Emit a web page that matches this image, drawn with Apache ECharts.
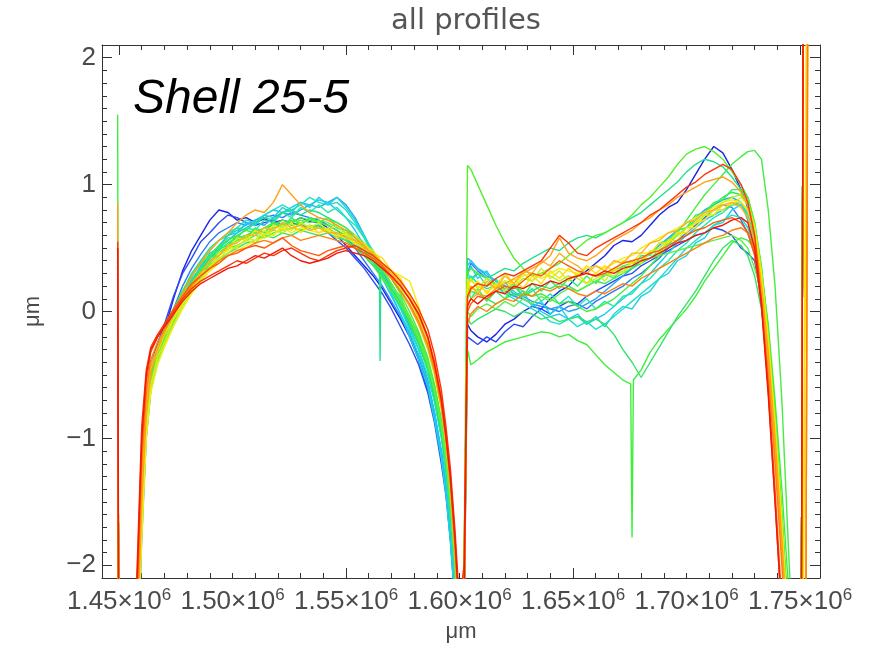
<!DOCTYPE html>
<html>
<head>
<meta charset="utf-8">
<script src="https://cdn.jsdelivr.net/npm/echarts@6/dist/echarts.min.js"></script>
<style>
html, body { margin: 0; padding: 0; background: #fff; }
#chart { width: 875px; height: 653px; }
</style>
</head>
<body>
<div id="chart"></div>
<script>
// Scan positions (μm) shared by all profiles: left arch and right section
const xLeft = [
  1449400, 1449900, 1456000, 1458000, 1460000, 1462000, 1464000, 1467000, 1470000, 1474000, 1478000,
  1482000, 1486000, 1490000, 1494000, 1498000, 1502000, 1506000, 1510000, 1514000, 1518000, 1522000,
  1526000, 1530000, 1534000, 1538000, 1542000, 1546000, 1550000, 1554000, 1558000, 1562000, 1566000,
  1570000, 1574000, 1578000, 1582000, 1586000, 1589000, 1592000, 1594000, 1596000, 1598000, 1600000
];
const xRight = [
  1602000, 1603500, 1605000, 1608000, 1612000, 1616000, 1620000, 1624000, 1628000, 1632000, 1636000,
  1640000, 1644000, 1648000, 1652000, 1656000, 1660000, 1664000, 1668000, 1672000, 1676000, 1680000,
  1684000, 1688000, 1692000, 1696000, 1700000, 1704000, 1708000, 1712000, 1716000, 1720000, 1724000,
  1727000, 1730000, 1733000, 1736000, 1739000, 1742000, 1745000, 1748000, 1750000, 1752000, 1754000
];

// Profile heights (μm) at the positions above
const p01L = [
  0.3, -3, -3, -2.8, -1.6, -0.9, -0.55, -0.32, -0.15, 0.1, 0.32,
  0.48, 0.6, 0.72, 0.8, 0.78, 0.72, 0.74, 0.7, 0.73, 0.7, 0.72,
  0.7, 0.74, 0.71, 0.7, 0.66, 0.6, 0.52, 0.44, 0.36, 0.28, 0.18,
  0.06, -0.06, -0.2, -0.38, -0.62, -0.85, -1.15, -1.4, -1.75, -2.2, -2.8
];
const p01R = [
  -2.4, -0.1, -0.15, -0.2, -0.24, -0.18, -0.1, -0.06, 0.0, 0.04, 0.02,
  0.1, 0.16, 0.2, 0.28, 0.32, 0.38, 0.44, 0.52, 0.56, 0.55, 0.6,
  0.68, 0.76, 0.82, 0.86, 0.96, 1.08, 1.2, 1.3, 1.25, 1.12, 0.96,
  0.82, 0.6, 0.2, -0.3, -1.0, -1.8, -2.7, -3, -6, 6, 6
];
const p02L = [
  0.35, -3, -3, -2.5, -1.3, -0.7, -0.42, -0.25, -0.1, 0.12, 0.3,
  0.42, 0.55, 0.62, 0.7, 0.76, 0.74, 0.7, 0.68, 0.7, 0.72, 0.68,
  0.7, 0.68, 0.66, 0.68, 0.62, 0.56, 0.5, 0.42, 0.34, 0.24, 0.14,
  0.02, -0.12, -0.26, -0.42, -0.64, -0.88, -1.2, -1.45, -1.8, -2.3, -2.9
];
const p02R = [
  -2.5, -0.2, -0.22, -0.26, -0.2, -0.24, -0.16, -0.1, -0.12, -0.04, 0.02,
  -0.02, 0.04, 0.08, 0.06, 0.12, 0.16, 0.2, 0.24, 0.28, 0.3, 0.36,
  0.4, 0.44, 0.48, 0.52, 0.56, 0.6, 0.62, 0.66, 0.64, 0.6, 0.5,
  0.46, 0.4, 0.1, -0.4, -1.1, -1.9, -2.8, -3, -6, 6, 6
];
const p03L = [
  0.3, -3, -3, -2.6, -1.5, -0.85, -0.5, -0.3, -0.16, 0.02, 0.2,
  0.34, 0.45, 0.55, 0.62, 0.66, 0.7, 0.68, 0.72, 0.74, 0.76, 0.74,
  0.78, 0.76, 0.74, 0.72, 0.68, 0.64, 0.58, 0.5, 0.4, 0.3, 0.2,
  0.08, -0.04, -0.18, -0.36, -0.58, -0.8, -1.1, -1.35, -1.7, -2.2, -2.8
];
const p03R = [
  -2.2, 0.3, 0.38, 0.32, 0.26, 0.2, 0.16, 0.12, 0.1, 0.06, 0.04,
  0.02, 0.0, 0.04, 0.06, 0.02, 0.08, 0.12, 0.16, 0.2, 0.26, 0.3,
  0.36, 0.42, 0.5, 0.56, 0.62, 0.68, 0.74, 0.8, 0.84, 0.82, 0.72,
  0.62, 0.45, 0.1, -0.42, -1.1, -1.9, -2.8, -3, -6, 6, 6
];
const p19L = [
  0.3, -3, -3, -2.9, -1.8, -1.0, -0.62, -0.4, -0.24, -0.08, 0.08,
  0.2, 0.32, 0.42, 0.5, 0.56, 0.62, 0.66, 0.7, 0.68, 0.74, 0.78,
  0.76, 0.8, 0.84, 0.82, 0.86, 0.9, 0.84, 0.74, 0.6, 0.46, 0.32,
  0.18, 0.04, -0.12, -0.3, -0.54, -0.8, -1.14, -1.42, -1.8, -2.3, -2.9
];
const p19R = [
  -2.2, 0.42, 0.4, 0.34, 0.28, 0.24, 0.2, 0.14, 0.12, 0.08, 0.06,
  0.02, 0.04, 0.0, 0.02, 0.06, 0.1, 0.16, 0.22, 0.28, 0.34, 0.4,
  0.46, 0.52, 0.58, 0.64, 0.7, 0.74, 0.8, 0.84, 0.88, 0.9, 0.86,
  0.72, 0.46, 0.12, -0.4, -1.1, -1.9, -2.8, -3, -6, 6, 6
];
const p21L = [
  0.35, -3, -3, -2.8, -1.7, -0.98, -0.62, -0.4, -0.26, -0.06, 0.1,
  0.26, 0.34, 0.46, 0.5, 0.6, 0.62, 0.7, 0.68, 0.76, 0.74, 0.82,
  0.78, 0.86, 0.82, 0.9, 0.84, 0.9, 0.82, 0.72, 0.6, 0.46, 0.3,
  0.14, -0.02, -0.2, -0.38, -0.6, -0.86, -1.16, -1.44, -1.82, -2.3, -2.9
];
const p21R = [
  -2.3, 0.3, 0.36, 0.26, 0.32, 0.2, 0.24, 0.12, 0.16, 0.04, 0.08,
  -0.02, 0.04, -0.06, -0.02, -0.1, -0.04, -0.12, -0.02, 0.04, 0.02, 0.12,
  0.16, 0.26, 0.3, 0.4, 0.44, 0.54, 0.58, 0.68, 0.7, 0.8, 0.84,
  0.78, 0.58, 0.2, -0.34, -1.04, -1.84, -2.76, -3, -6, 6, 6
];
const p04L = [
  0.35, -3, -3, -2.8, -1.7, -0.95, -0.6, -0.38, -0.22, -0.04, 0.1,
  0.24, 0.36, 0.44, 0.52, 0.6, 0.64, 0.68, 0.72, 0.76, 0.8, 0.78,
  0.82, 0.86, 0.84, 0.88, 0.86, 0.8, 0.74, 0.64, 0.52, 0.4, 0.26,
  0.12, -0.02, -0.16, -0.34, -0.56, -0.8, -1.1, -1.36, -1.72, -2.2, -2.8
];
const p04R = [
  -2.3, 0.36, 0.4, 0.34, 0.3, 0.24, 0.2, 0.16, 0.1, 0.06, 0.0,
  -0.04, -0.02, -0.06, -0.04, -0.1, -0.06, -0.02, 0.04, 0.1, 0.16, 0.22,
  0.3, 0.38, 0.46, 0.54, 0.6, 0.66, 0.72, 0.76, 0.8, 0.84, 0.86,
  0.8, 0.6, 0.22, -0.3, -1.0, -1.8, -2.7, -3, -6, 6, 6
];
const p05L = [
  0.4, -3, -3, -2.7, -1.6, -0.9, -0.56, -0.35, -0.2, -0.02, 0.14,
  0.28, 0.38, 0.48, 0.56, 0.62, 0.66, 0.72, 0.7, 0.76, 0.8, 0.84,
  0.8, 0.84, 0.9, 0.86, 0.84, 0.86, 0.8, 0.7, 0.58, 0.44, 0.3,
  0.16, 0.02, -0.14, -0.3, -0.5, -0.72, -1.0, -1.28, -1.65, -2.1, -2.7
];
const p05R = [
  -2.2, 0.25, 0.28, 0.22, 0.18, 0.2, 0.14, 0.1, 0.06, 0.02, -0.02,
  -0.08, -0.1, -0.06, -0.12, -0.08, -0.14, -0.1, -0.04, 0.02, 0.08, 0.14,
  0.2, 0.26, 0.34, 0.42, 0.5, 0.56, 0.62, 0.68, 0.72, 0.76, 0.74,
  0.66, 0.5, 0.18, -0.36, -1.06, -1.86, -2.8, -3, -6, 6, 6
];
const p25L = [
  0.38, -3, -3, -2.7, -1.6, -0.9, -0.56, -0.38, -0.22, -0.06, 0.08,
  0.24, 0.32, 0.44, 0.48, 0.58, 0.58, 0.66, 0.64, 0.72, 0.7, 0.78,
  0.74, 0.82, 0.78, 0.84, 0.78, 0.82, 0.74, 0.68, 0.58, 0.48, 0.34,
  0.22, 0.06, -0.08, -0.26, -0.46, -0.7, -0.98, -1.26, -1.62, -2.1, -2.75
];
const p25R = [
  -2.2, 0.32, 0.24, 0.3, 0.2, 0.26, 0.16, 0.22, 0.12, 0.18, 0.08,
  0.14, 0.06, 0.12, 0.04, 0.1, 0.02, 0.08, 0.04, 0.12, 0.14, 0.22,
  0.26, 0.34, 0.4, 0.48, 0.54, 0.62, 0.68, 0.74, 0.78, 0.84, 0.84,
  0.76, 0.56, 0.2, -0.32, -1.0, -1.8, -2.7, -3, -6, 6, 6
];
const p06L = [
  0.4, -3, -3, -2.5, -1.4, -0.78, -0.48, -0.3, -0.16, 0.0, 0.16,
  0.3, 0.4, 0.5, 0.56, 0.6, 0.66, 0.64, 0.7, 0.74, 0.72, 0.78,
  0.8, 0.76, 0.8, 0.78, 0.74, 0.7, 0.66, 0.58, 0.5, 0.4, 0.28,
  0.16, 0.04, -0.1, -0.26, -0.46, -0.68, -0.96, -1.22, -1.58, -2.05, -2.7
];
// narrow dropout in the left arch
const p06Dip = [[1564700, 0.33], [1565000, -0.39], [1565300, 0.31]];
const p06R = [
  -2.0, 0.2, 0.26, 0.3, 0.26, 0.3, 0.34, 0.32, 0.38, 0.42, 0.46,
  0.5, 0.48, 0.54, 0.58, 0.6, 0.58, 0.62, 0.66, 0.7, 0.74, 0.78,
  0.84, 0.9, 0.96, 1.02, 1.1, 1.16, 1.2, 1.18, 1.14, 1.06, 0.96,
  0.84, 0.62, 0.26, -0.24, -0.9, -1.7, -2.6, -3, -6, 6, 6
];
const p07L = [
  0.42, -3, -3, -2.6, -1.5, -0.82, -0.5, -0.32, -0.18, -0.02, 0.12,
  0.24, 0.34, 0.42, 0.48, 0.54, 0.58, 0.6, 0.64, 0.62, 0.66, 0.7,
  0.68, 0.7, 0.66, 0.68, 0.64, 0.62, 0.58, 0.52, 0.46, 0.38, 0.28,
  0.18, 0.06, -0.08, -0.24, -0.44, -0.66, -0.94, -1.2, -1.56, -2.05, -2.7
];
const p07R = [
  -2.2, 0.1, 0.16, 0.14, 0.1, 0.06, 0.1, 0.14, 0.12, 0.16, 0.2,
  0.18, 0.22, 0.2, 0.16, 0.2, 0.24, 0.22, 0.26, 0.3, 0.34, 0.38,
  0.42, 0.48, 0.54, 0.6, 0.66, 0.72, 0.78, 0.84, 0.9, 0.94, 0.92,
  0.84, 0.62, 0.3, -0.22, -0.9, -1.7, -2.6, -3, -6, 6, 6
];
const p22L = [
  0.4, -3, -3, -2.6, -1.5, -0.86, -0.5, -0.36, -0.18, -0.08, 0.12,
  0.2, 0.34, 0.38, 0.5, 0.52, 0.6, 0.58, 0.66, 0.62, 0.7, 0.66,
  0.74, 0.68, 0.74, 0.7, 0.74, 0.66, 0.64, 0.54, 0.52, 0.4, 0.34,
  0.2, 0.12, -0.06, -0.18, -0.42, -0.6, -0.9, -1.16, -1.52, -2.0, -2.65
];
const p22R = [
  -2.3, 0.2, 0.1, 0.18, 0.08, 0.16, 0.1, 0.2, 0.12, 0.22, 0.16,
  0.24, 0.18, 0.26, 0.2, 0.28, 0.22, 0.3, 0.26, 0.36, 0.34, 0.44,
  0.44, 0.54, 0.56, 0.64, 0.66, 0.76, 0.78, 0.86, 0.88, 0.96, 0.96,
  0.9, 0.7, 0.36, -0.14, -0.8, -1.6, -2.5, -3, -6, 6, 6
];
const p08L = [
  1.55, -3, -3, -2.4, -1.3, -0.74, -0.46, -0.28, -0.14, 0.02, 0.16,
  0.28, 0.38, 0.44, 0.52, 0.56, 0.6, 0.64, 0.62, 0.66, 0.7, 0.68,
  0.72, 0.7, 0.72, 0.7, 0.68, 0.64, 0.6, 0.54, 0.48, 0.4, 0.32,
  0.22, 0.1, -0.04, -0.2, -0.4, -0.6, -0.88, -1.14, -1.5, -1.98, -2.6
];
const p08R = [
  -2.5, -0.3, -0.42, -0.38, -0.32, -0.28, -0.24, -0.22, -0.2, -0.18, -0.16,
  -0.17, -0.2, -0.18, -0.23, -0.26, -0.34, -0.42, -0.48, -0.54, -1.78, -0.46,
  -0.32, -0.22, -0.14, -0.06, 0.02, 0.12, 0.24, 0.34, 0.44, 0.54, 0.58,
  0.56, 0.5, 0.3, -0.1, -0.7, -1.4, -2.2, -3, -6, 6, 6
];
// shoulders of the deep dropout in the right section
const p08Dip = [[1675400, -0.57], [1676600, -0.54]];
const p09L = [
  0.4, -3, -3, -2.7, -1.6, -0.88, -0.54, -0.36, -0.22, -0.06, 0.08,
  0.2, 0.3, 0.36, 0.44, 0.5, 0.52, 0.56, 0.6, 0.58, 0.62, 0.64,
  0.66, 0.64, 0.68, 0.66, 0.64, 0.6, 0.56, 0.5, 0.44, 0.36, 0.26,
  0.16, 0.06, -0.06, -0.22, -0.42, -0.62, -0.9, -1.16, -1.52, -2.0, -2.6
];
const p09R = [
  -2.0, 1.15, 1.12, 1.0, 0.84, 0.68, 0.54, 0.42, 0.34, 0.28, 0.3,
  0.34, 0.38, 0.44, 0.5, 0.56, 0.6, 0.62, 0.66, 0.7, 0.76, 0.84,
  0.9, 0.98, 1.06, 1.16, 1.24, 1.28, 1.3, 1.26, 1.2, 1.1, 1.0,
  0.9, 0.7, 0.34, -0.16, -0.82, -1.6, -2.5, -3, -6, 6, 6
];
const p10L = [
  0.4, -3, -3, -2.5, -1.4, -0.8, -0.5, -0.3, -0.18, -0.04, 0.08,
  0.18, 0.28, 0.36, 0.4, 0.46, 0.5, 0.54, 0.56, 0.6, 0.58, 0.62,
  0.6, 0.64, 0.62, 0.6, 0.62, 0.58, 0.56, 0.5, 0.44, 0.36, 0.28,
  0.18, 0.08, -0.04, -0.18, -0.38, -0.58, -0.86, -1.1, -1.46, -1.95, -2.6
];
const p10R = [
  -2.4, -0.05, -0.1, -0.06, -0.02, 0.02, 0.0, -0.04, 0.0, -0.02, -0.06,
  -0.04, -0.08, -0.06, -0.04, -0.08, -0.06, -0.1, -0.18, -0.3, -0.4, -0.52,
  -0.4, -0.28, -0.16, -0.04, 0.06, 0.16, 0.28, 0.4, 0.5, 0.56, 0.52,
  0.44, 0.28, 0.02, -0.4, -1.0, -1.8, -2.7, -3, -6, 6, 6
];
const p11L = [
  0.45, -3, -3, -2.6, -1.5, -0.84, -0.52, -0.34, -0.2, -0.04, 0.1,
  0.22, 0.32, 0.4, 0.46, 0.52, 0.56, 0.6, 0.62, 0.66, 0.68, 0.72,
  0.7, 0.74, 0.72, 0.74, 0.72, 0.7, 0.66, 0.6, 0.54, 0.46, 0.36,
  0.26, 0.14, 0.0, -0.16, -0.36, -0.58, -0.86, -1.12, -1.48, -1.96, -2.6
];
const p11R = [
  -2.3, 0.3, 0.34, 0.3, 0.26, 0.22, 0.18, 0.2, 0.16, 0.12, 0.14,
  0.1, 0.06, 0.08, 0.04, 0.0, 0.02, 0.06, 0.1, 0.16, 0.22, 0.28,
  0.36, 0.44, 0.52, 0.62, 0.72, 0.82, 0.92, 1.0, 1.08, 1.16, 1.22,
  1.26, 1.27, 1.2, 0.8, 0.2, -0.7, -1.9, -3, -6, 6, 6
];
const p20L = [
  0.42, -3, -3, -2.6, -1.5, -0.86, -0.54, -0.34, -0.2, -0.04, 0.1,
  0.22, 0.3, 0.38, 0.46, 0.5, 0.56, 0.58, 0.62, 0.6, 0.66, 0.68,
  0.7, 0.72, 0.7, 0.72, 0.7, 0.66, 0.62, 0.56, 0.5, 0.42, 0.34,
  0.22, 0.1, -0.04, -0.2, -0.4, -0.62, -0.9, -1.16, -1.52, -2.0, -2.6
];
const p20R = [
  -2.3, 0.0, -0.04, 0.02, 0.06, 0.02, 0.08, 0.04, 0.1, 0.06, 0.12,
  0.08, 0.14, 0.18, 0.16, 0.2, 0.24, 0.28, 0.32, 0.36, 0.38, 0.4,
  0.42, 0.44, 0.46, 0.48, 0.5, 0.52, 0.54, 0.56, 0.58, 0.6, 0.56,
  0.5, 0.34, 0.16, -0.3, -0.9, -1.6, -2.4, -3, -6, 6, 6
];
const p12L = [
  0.4, -3, -3, -2.7, -1.7, -0.96, -0.6, -0.4, -0.26, -0.1, 0.04,
  0.16, 0.26, 0.34, 0.42, 0.46, 0.52, 0.56, 0.54, 0.6, 0.64, 0.62,
  0.66, 0.68, 0.64, 0.66, 0.64, 0.62, 0.6, 0.56, 0.5, 0.44, 0.36,
  0.28, 0.18, 0.06, -0.1, -0.3, -0.5, -0.78, -1.04, -1.4, -1.9, -2.55
];
const p12R = [
  -2.2, 0.14, 0.2, 0.16, 0.22, 0.18, 0.24, 0.2, 0.26, 0.24, 0.3,
  0.28, 0.24, 0.28, 0.26, 0.22, 0.26, 0.3, 0.28, 0.32, 0.36, 0.4,
  0.46, 0.5, 0.56, 0.6, 0.66, 0.7, 0.76, 0.8, 0.86, 0.9, 0.92,
  0.86, 0.68, 0.32, -0.2, -0.86, -1.66, -2.6, -3, -6, 6, 6
];
const p23L = [
  0.4, -3, -3, -2.7, -1.65, -0.92, -0.58, -0.36, -0.24, -0.06, 0.06,
  0.2, 0.24, 0.36, 0.4, 0.5, 0.5, 0.58, 0.56, 0.64, 0.6, 0.68,
  0.64, 0.7, 0.66, 0.7, 0.64, 0.68, 0.6, 0.6, 0.52, 0.48, 0.38,
  0.32, 0.2, 0.1, -0.06, -0.26, -0.48, -0.76, -1.02, -1.38, -1.88, -2.5
];
const p23R = [
  -2.2, 0.18, 0.26, 0.18, 0.26, 0.2, 0.3, 0.22, 0.3, 0.24, 0.34,
  0.26, 0.32, 0.24, 0.3, 0.22, 0.3, 0.24, 0.34, 0.3, 0.4, 0.38,
  0.48, 0.46, 0.56, 0.56, 0.66, 0.66, 0.76, 0.76, 0.84, 0.84, 0.9,
  0.84, 0.66, 0.3, -0.22, -0.88, -1.68, -2.6, -3, -6, 6, 6
];
const p13L = [
  0.4, -3, -3, -2.8, -1.8, -1.0, -0.64, -0.42, -0.28, -0.12, 0.02,
  0.14, 0.24, 0.32, 0.38, 0.44, 0.48, 0.52, 0.56, 0.58, 0.6, 0.66,
  0.62, 0.66, 0.64, 0.62, 0.64, 0.6, 0.58, 0.54, 0.5, 0.44, 0.38,
  0.32, 0.28, 0.24, 0.04, -0.22, -0.44, -0.72, -1.0, -1.36, -1.86, -2.5
];
const p13R = [
  -2.1, 0.2, 0.24, 0.2, 0.16, 0.2, 0.24, 0.22, 0.28, 0.3, 0.26,
  0.3, 0.34, 0.32, 0.3, 0.34, 0.36, 0.34, 0.38, 0.42, 0.44, 0.5,
  0.54, 0.58, 0.62, 0.66, 0.7, 0.74, 0.78, 0.82, 0.86, 0.88, 0.86,
  0.8, 0.62, 0.26, -0.26, -0.92, -1.7, -2.6, -3, -6, 0, 6
];
const p24L = [
  0.45, -3, -3, -2.5, -1.4, -0.76, -0.46, -0.32, -0.18, -0.06, 0.08,
  0.16, 0.3, 0.34, 0.46, 0.48, 0.58, 0.56, 0.64, 0.6, 0.68, 0.64,
  0.7, 0.62, 0.68, 0.62, 0.66, 0.58, 0.62, 0.54, 0.54, 0.46, 0.42,
  0.32, 0.26, 0.12, 0.0, -0.2, -0.4, -0.68, -0.96, -1.32, -1.82, -2.45
];
const p24R = [
  -2.2, 0.26, 0.16, 0.24, 0.14, 0.22, 0.16, 0.26, 0.18, 0.28, 0.22,
  0.32, 0.26, 0.34, 0.28, 0.36, 0.3, 0.36, 0.32, 0.4, 0.38, 0.46,
  0.46, 0.54, 0.54, 0.62, 0.62, 0.7, 0.72, 0.8, 0.8, 0.86, 0.86,
  0.8, 0.64, 0.28, -0.24, -0.9, -1.7, -2.6, -3, -6, -1, 6
];
const p26L = [
  0.5, -3, -3, -2.4, -1.3, -0.7, -0.42, -0.28, -0.16, -0.02, 0.1,
  0.22, 0.3, 0.4, 0.44, 0.52, 0.54, 0.6, 0.6, 0.66, 0.64, 0.7,
  0.66, 0.68, 0.64, 0.66, 0.62, 0.62, 0.58, 0.56, 0.5, 0.46, 0.38,
  0.3, 0.22, 0.1, -0.04, -0.22, -0.44, -0.72, -0.98, -1.34, -1.84, -2.45
];
const p26R = [
  -2.3, 0.1, 0.2, 0.14, 0.24, 0.18, 0.28, 0.22, 0.32, 0.3, 0.4,
  0.36, 0.46, 0.4, 0.36, 0.3, 0.36, 0.32, 0.4, 0.38, 0.46, 0.46,
  0.54, 0.56, 0.62, 0.64, 0.7, 0.72, 0.78, 0.8, 0.84, 0.86, 0.82,
  0.74, 0.54, 0.16, -0.4, -1.1, -1.9, -2.8, -3, -6, -6, 6
];
const p14L = [
  0.85, -3, -3, -2.6, -1.5, -0.8, -0.48, -0.3, -0.16, 0.0, 0.14,
  0.28, 0.38, 0.48, 0.56, 0.62, 0.7, 0.76, 0.8, 0.78, 0.86, 1.0,
  0.92, 0.84, 0.78, 0.74, 0.72, 0.68, 0.64, 0.58, 0.52, 0.44, 0.36,
  0.26, 0.16, 0.04, -0.1, -0.28, -0.48, -0.76, -1.02, -1.38, -1.88, -2.5
];
const p14R = [
  -2.4, 0.06, 0.1, 0.14, 0.12, 0.18, 0.22, 0.26, 0.3, 0.34, 0.38,
  0.44, 0.58, 0.46, 0.42, 0.4, 0.44, 0.5, 0.56, 0.6, 0.64, 0.7,
  0.74, 0.8, 0.84, 0.9, 0.94, 0.98, 1.02, 1.04, 1.06, 1.02, 0.94,
  0.84, 0.6, 0.2, -0.32, -1.0, -1.8, -2.7, -3, -6, -6, 6
];
const p15L = [
  0.5, -3, -3, -2.3, -1.2, -0.64, -0.38, -0.24, -0.14, -0.02, 0.1,
  0.2, 0.28, 0.34, 0.4, 0.44, 0.48, 0.5, 0.54, 0.56, 0.54, 0.58,
  0.6, 0.56, 0.58, 0.6, 0.58, 0.56, 0.54, 0.5, 0.46, 0.4, 0.34,
  0.26, 0.16, 0.06, -0.08, -0.26, -0.46, -0.74, -1.0, -1.36, -1.86, -2.5
];
const p15R = [
  -2.5, -0.1, -0.02, 0.04, 0.0, 0.06, 0.1, 0.08, 0.14, 0.12, 0.18,
  0.16, 0.2, 0.18, 0.14, 0.12, 0.16, 0.14, 0.18, 0.22, 0.2, 0.26,
  0.3, 0.34, 0.38, 0.42, 0.46, 0.5, 0.54, 0.58, 0.6, 0.64, 0.66,
  0.62, 0.48, 0.1, -0.5, -1.2, -2.0, -2.9, -3, -6, -6, 6
];
const p16L = [
  0.5, -3, -3, -2.2, -1.1, -0.56, -0.32, -0.2, -0.1, 0.02, 0.12,
  0.22, 0.28, 0.34, 0.38, 0.44, 0.46, 0.5, 0.52, 0.5, 0.54, 0.58,
  0.52, 0.48, 0.46, 0.44, 0.48, 0.5, 0.52, 0.5, 0.46, 0.42, 0.36,
  0.28, 0.2, 0.1, -0.02, -0.2, -0.4, -0.68, -0.96, -1.3, -1.78, -2.4
];
const p16R = [
  -2.2, 0.0, 0.06, 0.12, 0.1, 0.16, 0.2, 0.18, 0.24, 0.3, 0.28,
  0.34, 0.4, 0.36, 0.32, 0.3, 0.28, 0.3, 0.34, 0.38, 0.4, 0.42,
  0.46, 0.48, 0.52, 0.56, 0.6, 0.64, 0.66, 0.7, 0.72, 0.74, 0.7,
  0.62, 0.44, 0.06, -0.58, -1.4, -2.3, -3, -3, -6, 6, 6
];
const p17L = [
  0.55, -3, -3, -2.0, -0.9, -0.46, -0.28, -0.18, -0.1, 0.0, 0.1,
  0.18, 0.24, 0.28, 0.32, 0.36, 0.4, 0.38, 0.42, 0.46, 0.44, 0.48,
  0.5, 0.46, 0.42, 0.4, 0.44, 0.48, 0.5, 0.52, 0.48, 0.44, 0.38,
  0.32, 0.24, 0.14, 0.02, -0.14, -0.34, -0.62, -0.9, -1.24, -1.72, -2.3
];
const p17R = [
  -2.0, 0.12, 0.18, 0.22, 0.2, 0.26, 0.3, 0.28, 0.32, 0.36, 0.4,
  0.5, 0.6, 0.54, 0.46, 0.44, 0.5, 0.54, 0.58, 0.62, 0.66, 0.7,
  0.76, 0.8, 0.86, 0.92, 0.98, 1.02, 1.08, 1.12, 1.16, 1.12, 1.0,
  0.86, 0.6, 0.08, -0.62, -1.5, -2.4, -3, -3, -6, 6, 6
];
const p18L = [
  0.5, -3, -3, -2.1, -1.0, -0.5, -0.3, -0.2, -0.12, -0.02, 0.08,
  0.16, 0.22, 0.26, 0.3, 0.34, 0.36, 0.4, 0.44, 0.42, 0.46, 0.5,
  0.44, 0.4, 0.38, 0.4, 0.42, 0.46, 0.48, 0.46, 0.44, 0.4, 0.34,
  0.28, 0.2, 0.1, -0.02, -0.2, -0.42, -0.7, -0.98, -1.32, -1.8, -2.4
];
const p18R = [
  -2.3, 0.04, 0.1, 0.06, 0.12, 0.16, 0.14, 0.2, 0.18, 0.22, 0.2,
  0.24, 0.22, 0.26, 0.28, 0.3, 0.28, 0.32, 0.3, 0.34, 0.36, 0.4,
  0.42, 0.46, 0.5, 0.54, 0.56, 0.6, 0.62, 0.66, 0.68, 0.72, 0.74,
  0.7, 0.5, 0.04, -0.66, -1.5, -2.4, -3, -3, -6, 6, 6
];

// Drawing order (blue first, red on top) and colour of each profile
const profileOrder = [
  [p01L, p01R, null], [p02L, p02R, null], [p03L, p03R, null], [p19L, p19R, null],
  [p21L, p21R, null], [p04L, p04R, null], [p05L, p05R, null], [p25L, p25R, null],
  [p06L, p06R, p06Dip], [p07L, p07R, null], [p22L, p22R, null], [p08L, p08R, p08Dip],
  [p09L, p09R, null], [p10L, p10R, null], [p11L, p11R, null], [p20L, p20R, null],
  [p12L, p12R, null], [p23L, p23R, null], [p13L, p13R, null], [p24L, p24R, null],
  [p26L, p26R, null], [p14L, p14R, null], [p15L, p15R, null], [p16L, p16R, null],
  [p17L, p17R, null], [p18L, p18R, null]
];
const profileColors = [
  '#1a22e6', '#2a4cf2', '#2f7cf4', '#26a6f0',
  '#20d0e4', '#1ec8ec', '#1fe0c6', '#20e8b0',
  '#22e08e', '#2ee85a', '#30f060', '#3cf03a',
  '#54f02c', '#34e46a', '#46ec40', '#60ee48',
  '#b4f01e', '#d0f018', '#f0ee10', '#ffe000',
  '#ffb020', '#ffa018', '#ff8010', '#ff5a0c',
  '#ff3408', '#f01a08'
];

// Axis tick labels
const xLabelValues = [1450000, 1500000, 1550000, 1600000, 1650000, 1700000, 1750000];
const yLabelValues = [-2, -1, 0, 1, 2];
const xMajorTicks = [1450000, 1550000, 1650000, 1750000];

const X_MIN = 1442500, X_MAX = 1758800, Y_MIN = -2.1, Y_MAX = 2.1;

const xMinorTicks = [];
for (let v = 1450000; v <= 1750000; v += 10000) xMinorTicks.push(v);
const yMinorTicks = [];
for (let i = -21; i <= 21; i++) yMinorTicks.push(i / 10);

function profilePoints(left, right, extra) {
  const pts = [];
  xLeft.forEach((x, i) => pts.push([x, left[i]]));
  xRight.forEach((x, i) => pts.push([x, right[i]]));
  if (extra) extra.forEach(p => pts.push(p));
  pts.sort((a, b) => a[0] - b[0]);
  return pts;
}

const frameColor = '#333';
const labelColor = '#4a4a4a';

function xAxisDef(position, ticks, len, main) {
  return {
    type: 'value', position: position, offset: 0, min: X_MIN, max: X_MAX,
    axisLine: { show: main, onZero: false, lineStyle: { color: frameColor, width: 1 } },
    axisTick: { show: true, inside: true, length: len, customValues: ticks,
                lineStyle: { color: frameColor, width: 1 } },
    axisLabel: { show: false },
    splitLine: { show: false }
  };
}
function yAxisDef(position, ticks, len, main) {
  return {
    type: 'value', position: position, offset: 0, min: Y_MIN, max: Y_MAX,
    axisLine: { show: main, onZero: false, lineStyle: { color: frameColor, width: 1 } },
    axisTick: { show: true, inside: true, length: len, customValues: ticks,
                lineStyle: { color: frameColor, width: 1 } },
    axisLabel: { show: false },
    splitLine: { show: false }
  };
}

const xBottom = xAxisDef('bottom', xMajorTicks, 10, true);
xBottom.axisLabel = {
  show: true, customValues: xLabelValues, margin: 9,
  formatter: v => '{m|' + (v / 1e6).toFixed(2) + '×10}{e|6}',
  rich: {
    m: { fontFamily: 'Liberation Sans', fontSize: 26, color: labelColor, lineHeight: 30 },
    e: { fontFamily: 'Liberation Sans', fontSize: 17, color: labelColor, lineHeight: 12, verticalAlign: 'top' }
  }
};
xBottom.name = 'μm';
xBottom.nameLocation = 'middle';
xBottom.nameGap = 43;
xBottom.nameTextStyle = { fontFamily: 'Liberation Sans', fontSize: 22, color: labelColor };

const yLeft = yAxisDef('left', yLabelValues, 10, true);
yLeft.axisLabel = {
  show: true, customValues: yLabelValues, margin: 6,
  fontFamily: 'Liberation Sans', fontSize: 26, color: labelColor,
  formatter: v => (v < 0 ? '\u2212' + Math.abs(v) : String(v))
};
yLeft.name = 'μm';
yLeft.nameLocation = 'middle';
yLeft.nameGap = 58;
yLeft.nameRotate = 90;
yLeft.nameTextStyle = { fontFamily: 'Liberation Sans', fontSize: 22, color: labelColor };

const series = profileOrder.map((p, i) => ({
  type: 'line',
  xAxisIndex: 0,
  yAxisIndex: 0,
  data: profilePoints(p[0], p[1], p[2]),
  showSymbol: false,
  symbol: 'none',
  clip: true,
  lineStyle: { color: profileColors[i], width: 1.4 },
  emphasis: { disabled: true },
  animation: false
}));

const chart = echarts.init(document.getElementById('chart'), null, { renderer: 'canvas' });
chart.setOption({
  backgroundColor: '#fff',
  animation: false,
  title: {
    text: 'all profiles', left: 461, textAlign: 'center', top: 2,
    textStyle: { fontFamily: 'DejaVu Sans', fontSize: 29, fontWeight: 'normal', color: '#555' }
  },
  grid: { left: 102, top: 45, width: 718, height: 533, containLabel: false },
  xAxis: [
    xBottom,
    xAxisDef('bottom', xMinorTicks, 5, false),
    xAxisDef('top', xMajorTicks, 10, true),
    xAxisDef('top', xMinorTicks, 5, false)
  ],
  yAxis: [
    yLeft,
    yAxisDef('left', yMinorTicks, 5, false),
    yAxisDef('right', yLabelValues, 10, true),
    yAxisDef('right', yMinorTicks, 5, false)
  ],
  graphic: [{
    type: 'text', x: 133, y: 76, z: 100,
    style: {
      text: 'Shell 25-5', fontFamily: 'Liberation Sans', fontStyle: 'italic',
      fontSize: 48, fill: '#000', verticalAlign: 'top'
    }
  }],
  series: series
});
</script>
</body>
</html>
